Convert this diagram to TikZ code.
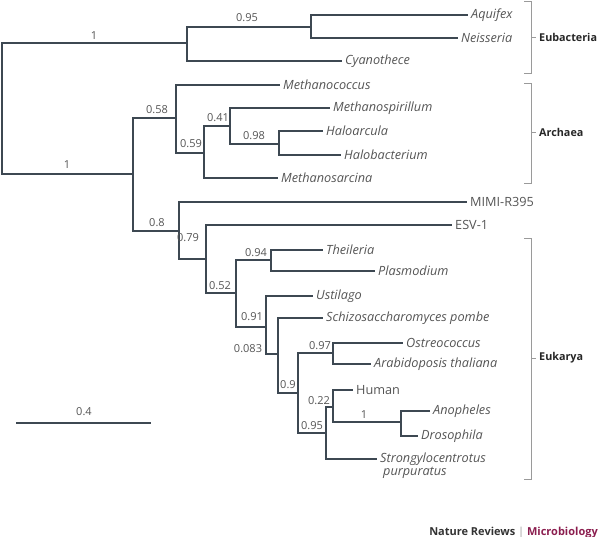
\documentclass[tikz,border=0pt]{standalone}
\usepackage{fontspec}
\setmainfont{Open Sans}
\definecolor{tree}{HTML}{3D4852}
\definecolor{txt}{HTML}{555555}
\definecolor{brk}{HTML}{9A9A9A}
\definecolor{micro}{HTML}{8B1E4F}
\begin{document}
\begin{tikzpicture}[x=1pt,y=-1pt,
  br/.style={draw=tree,line width=2.9pt},
  leaf/.style={anchor=west,inner sep=3pt,font=\itshape\fontsize{12.7}{14}\selectfont,text=txt},
  leafup/.style={leaf,font=\fontsize{12.7}{14}\selectfont},
  bs/.style={inner sep=0pt,font=\fontsize{11}{12}\selectfont,text=txt},
  grp/.style={anchor=west,inner sep=0pt,font=\bfseries\fontsize{10.8}{13}\selectfont,text=black!85},
  brack/.style={draw=brk,line width=0.9pt}]
\useasboundingbox (0,0) rectangle (600,537);
% internal nodes
\coordinate (R) at (2,108);
\coordinate (E) at (187,43);
\coordinate (A1) at (311,27);
\coordinate (L) at (133,174);
\coordinate (N58) at (176,118);
\coordinate (N59) at (204,153);
\coordinate (N41) at (230,126);
\coordinate (N98) at (279,144);
\coordinate (N8) at (179,231);
\coordinate (N79) at (206,259);
\coordinate (N52) at (236,293);
\coordinate (N94) at (271,260);
\coordinate (N91) at (266,327);
\coordinate (N083) at (278,354);
\coordinate (N9) at (298,393);
\coordinate (N97) at (333,353);
\coordinate (N95) at (326,433);
\coordinate (N22) at (333,407);
\coordinate (N1) at (401,422);
% leaves
\node[leaf] (aquifex) at (468,15) {Aquifex};
\node[leaf] (neisseria) at (458,38) {Neisseria};
\node[leaf] (cyano) at (342,61) {Cyanothece};
\node[leaf] (mcoccus) at (280,85) {Methanococcus};
\node[leaf] (mspir) at (330,108) {Methanospirillum};
\node[leaf] (haloar) at (323,131) {Haloarcula};
\node[leaf] (halob) at (341,155) {Halobacterium};
\node[leaf] (msarc) at (278,178) {Methanosarcina};
\node[leafup] (mimi) at (467,202) {MIMI-R395};
\node[leafup] (esv) at (452,225) {ESV-1};
\node[leaf] (theil) at (323,250) {Theileria};
\node[leaf] (plasm) at (375,271) {Plasmodium};
\node[leaf] (ustil) at (313,296) {Ustilago};
\node[leaf] (schizo) at (323,318) {Schizosaccharomyces pombe};
\node[leaf] (ostreo) at (403,343) {Ostreococcus};
\node[leaf] (arabi) at (371,364) {Arabidoposis thaliana};
\node[leafup] (human) at (353,390) {Human};
\node[leaf] (anoph) at (430,411) {Anopheles};
\node[leaf] (droso) at (418,436) {Drosophila};
\node[leaf] (strongy) at (377,459) {Strongylocentrotus};
\node[leaf,anchor=north west] (purpu) at ([xshift=3pt,yshift=5pt]strongy.south west) {purpuratus};
% branches
\draw[br] (R) |- (E);
\draw[br] (R) |- (L);
\draw[br] (E) |- (A1);
\draw[br] (E) |- (cyano.west);
\draw[br] (A1) |- (aquifex.west);
\draw[br] (A1) |- (neisseria.west);
\draw[br] (L) |- (N58);
\draw[br] (L) |- (N8);
\draw[br] (N58) |- (mcoccus.west);
\draw[br] (N58) |- (N59);
\draw[br] (N59) |- (N41);
\draw[br] (N59) |- (msarc.west);
\draw[br] (N41) |- (mspir.west);
\draw[br] (N41) |- (N98);
\draw[br] (N98) |- (haloar.west);
\draw[br] (N98) |- (halob.west);
\draw[br] (N8) |- (mimi.west);
\draw[br] (N8) |- (N79);
\draw[br] (N79) |- (esv.west);
\draw[br] (N79) |- (N52);
\draw[br] (N52) |- (N94);
\draw[br] (N52) |- (N91);
\draw[br] (N94) |- (theil.west);
\draw[br] (N94) |- (plasm.west);
\draw[br] (N91) |- (ustil.west);
\draw[br] (N91) |- (N083);
\draw[br] (N083) |- (schizo.west);
\draw[br] (N083) |- (N9);
\draw[br] (N9) |- (N97);
\draw[br] (N9) |- (N95);
\draw[br] (N97) |- (ostreo.west);
\draw[br] (N97) |- (arabi.west);
\draw[br] (N95) |- (N22);
\draw[br] (N95) |- (strongy.west);
\draw[br] (N22) |- (human.west);
\draw[br] (N22) |- (N1);
\draw[br] (N1) |- (anoph.west);
\draw[br] (N1) |- (droso.west);
% support values
\node[bs] (bE) at (94,36) {1};
\node[bs] (bA1) at (247,18) {0.95};
\node[bs] (bL) at (67,165) {1};
\node[bs] (b58) at (157,110) {0.58};
\node[bs] (b59) at (191,144) {0.59};
\node[bs] (b41) at (218,118) {0.41};
\node[bs] (b98) at (254,136) {0.98};
\node[bs] (b8) at (157,223) {0.8};
\node[bs] (b79) at (188,238) {0.79};
\node[bs] (b94) at (256,253) {0.94};
\node[bs] (b52) at (220,286) {0.52};
\node[bs] (b91) at (252,317) {0.91};
\node[bs] (b083) at (248,349) {0.083};
\node[bs] (b9) at (288,385) {0.9};
\node[bs] (b97) at (320,346) {0.97};
\node[bs] (b22) at (319,401) {0.22};
\node[bs] (b95) at (312,426) {0.95};
\node[bs] (b1) at (364,415) {1};
% scale bar
\coordinate (s1) at (16,423);
\coordinate (s2) at (151,423);
\draw[br] (s1) -- (s2);
\node[bs] (sbl) at (84,412) {0.4};
% groups
\node[grp] (eub) at (539,37) {Eubacteria};
\node[grp] (arc) at (539,132) {Archaea};
\node[grp] (euk) at (539,358) {Eukarya};
\draw[brack] (524,1) -- (531,1) -- (531,73) -- (524,73);
\draw[brack] (531,37) -- ([xshift=-3pt]eub.west);
\draw[brack] (524,83) -- (531,83) -- (531,183) -- (524,183);
\draw[brack] (531,132) -- ([xshift=-3pt]arc.west);
\draw[brack] (524,238) -- (531,238) -- (531,479) -- (524,479);
\draw[brack] (531,358) -- ([xshift=-3pt]euk.west);
% footer
\node[anchor=base east,inner sep=0pt,font=\bfseries\fontsize{11}{13}\selectfont,text=black!80] (foot) at (598,535) {Nature Reviews {\color{brk}\mdseries|} \textcolor{micro}{Microbiology}};
\end{tikzpicture}
\end{document}
